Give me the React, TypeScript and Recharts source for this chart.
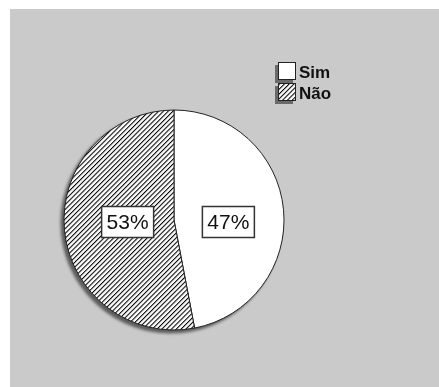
import React from 'react';
import { PieChart, Pie, Cell } from 'recharts';

const categories = ['Sim', 'Não'];
const values = [47, 53];

const chartData = categories.map((name, i) => ({ name, value: values[i] }));
const fills = ['#ffffff', 'url(#hatch)'];

const RADIAN = Math.PI / 180;
const W = 429;
const H = 378;

const renderLabel = (props: any) => {
    const { cx, cy, midAngle, outerRadius, percent } = props;
    const r = outerRadius * 0.46;
    const x = cx + r * Math.cos(-midAngle * RADIAN) + 4;
    const y = cy + 2;
    const text = `${Math.round(percent * 100)}%`;
    return (
        <g>
            <rect x={x - 26} y={y - 15.5} width={52} height={31} fill="#ffffff" stroke="#333" strokeWidth={1.5} />
            <text x={x} y={y + 1} textAnchor="middle" dominantBaseline="middle" fontSize={21} fill="#111" fontFamily="Liberation Sans, Arial, sans-serif">
                {text}
            </text>
        </g>
    );
};

export default function App() {
    return (
        <div style={{ position: 'fixed', left: 0, top: 0, width: 439, height: 387, background: '#ffffff' }}>
            <div style={{ position: 'absolute', left: 10, top: 9, width: W, height: H, background: '#cacaca' }}>
                {/* whole pie gets a soft shadow to the lower left */}
                <div style={{ position: 'absolute', left: 0, top: 0, filter: 'drop-shadow(-3px 3px 1.5px rgba(0,0,0,0.55))' }}>
                    <PieChart width={W} height={H} margin={{ top: 0, right: 0, bottom: 0, left: 0 }}>
                        <defs>
                            <pattern id="hatch" patternUnits="userSpaceOnUse" width={3.4} height={3.4} patternTransform="rotate(45)">
                                <rect x={0} y={0} width={3.4} height={3.4} fill="#ffffff" />
                                <line x1={0} y1={0} x2={0} y2={3.4} stroke="#000" strokeWidth={2.1} />
                            </pattern>
                        </defs>
                        <Pie
                            data={chartData}
                            dataKey="value"
                            cx={164}
                            cy={211}
                            outerRadius={110}
                            startAngle={90}
                            endAngle={-270}
                            stroke="#222"
                            strokeWidth={1}
                            label={renderLabel}
                            labelLine={false}
                            isAnimationActive={false}
                        >
                            {chartData.map((d, i) => (
                                <Cell key={d.name} fill={fills[i]} />
                            ))}
                        </Pie>
                    </PieChart>
                </div>
                <div style={{ position: 'absolute', left: 265, top: 53, fontFamily: 'Liberation Sans, Arial, sans-serif', fontSize: 17, fontWeight: 'bold', color: '#111' }}>
                    {categories.map((c, i) => (
                        <div key={c} style={{ display: 'flex', alignItems: 'center', height: 21 }}>
                            <svg width={23} height={21}>
                                <rect x={0} y={3} width={18} height={18} fill="#6a6a6a" />
                                <rect x={3.5} y={0.5} width={17} height={17} fill={fills[i]} stroke="#222" strokeWidth={1} />
                            </svg>
                            <span style={{ marginLeft: 1 }}>{c}</span>
                        </div>
                    ))}
                </div>
            </div>
        </div>
    );
}
